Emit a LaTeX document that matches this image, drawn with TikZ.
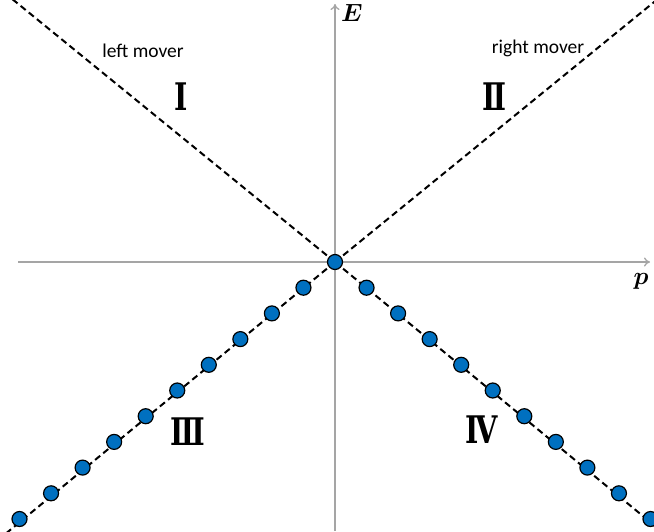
\documentclass[tikz,border=0pt]{standalone}
\usepackage{amsmath}
\usepackage{fontspec}
\setmainfont{Carlito}
\newfontfamily\numfont{DejaVu Serif}
\usetikzlibrary{arrows.meta, calc}
\definecolor{dotblue}{RGB}{0,112,192}
\definecolor{axisgray}{RGB}{165,165,165}

\tikzset{
  axis/.style={axisgray, line width=1.3pt, -{To[length=6pt, width=9pt]}},
  band/.style={line width=2pt, dash pattern=on 6.5pt off 4pt},
  state/.style={circle, draw=black, fill=dotblue, line width=1.2pt,
    minimum size=15pt, inner sep=0pt},
  mover/.style={font=\fontsize{19.5}{21}\selectfont},
  region/.style={font=\numfont\bfseries\fontsize{38}{38}\selectfont,
    xscale=0.75, transform shape},
  axlabel/.style={font=\fontsize{23}{23}\selectfont}
}

\begin{document}
\begin{tikzpicture}[x=1pt, y=-1pt]
  \useasboundingbox (0,0) rectangle (654,531);
  \coordinate (O) at (335,262);

  % === 坐标轴 ===
  \draw[axis] (18,262) -- (650,262) coordinate (pend);
  \draw[axis] (335,531) -- (335,4) coordinate (eend);
  \node[axlabel] (Elab) at (352,13) {$\boldsymbol{E}$};
  \node[axlabel] (plab) at (641,281) {$\boldsymbol{p}$};

  % === 色散线（虚线） ===
  \begin{scope}
    \clip (0,0) rectangle (654,531);
    \draw[band] (O) -- ++(-340,-277);
    \draw[band] (O) -- ++(340,-277);
    \draw[band] (O) -- ++(-340,280.5);
    \draw[band] (O) -- ++(340,280.5);
  \end{scope}

  % === 占据态 ===
  \foreach \i in {-10,...,10}{
    \pgfmathsetmacro{\dx}{31.55*\i}
    \pgfmathsetmacro{\dy}{25.7*abs(\i)}
    \node[state] (s\i) at ($(O)+(\dx,\dy)$) {};
  }

  % === 标签 ===
  \node[mover] (lm) at (143,51) {left mover};
  \node[mover] (rm) at (538,48) {right mover};
  \node[region] (r1) at (181,97) {Ⅰ};
  \node[region] (r2) at (495,97) {Ⅱ};
  \node[region] (r3) at (188,432) {Ⅲ};
  \node[region] (r4) at (482,430) {Ⅳ};
\end{tikzpicture}
\end{document}
